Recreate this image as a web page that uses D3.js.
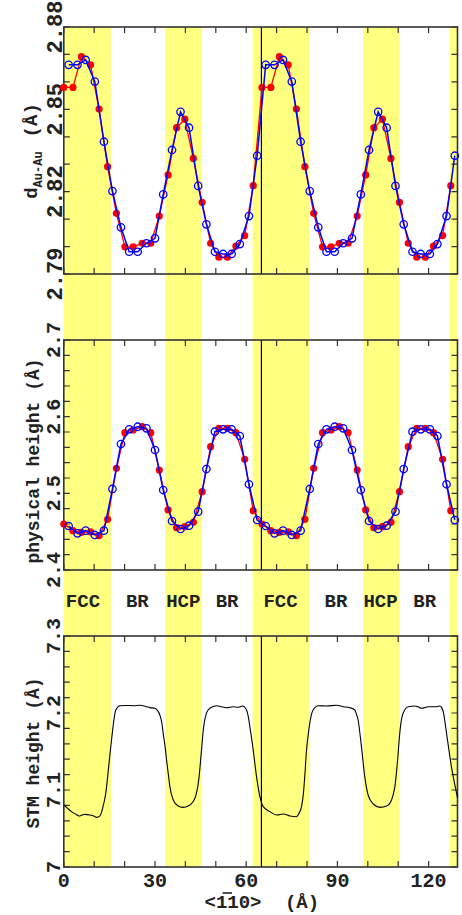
<!DOCTYPE html>
<html lang="en">
<head>
  <meta charset="UTF-8">
  <title>Au-Au distance, physical and STM height</title>
  <script src="https://cdn.jsdelivr.net/npm/d3@7"></script>
  <style>
    html, body { margin: 0; padding: 0; background: #fff; }
    svg { display: block; }
    text { font-family: "Liberation Mono", "DejaVu Sans Mono", monospace; font-weight: bold; fill: #222; }
  </style>
</head>
<body>
  <svg id="chart" width="462" height="915"></svg>
  <script>
    // positions along <1-10> (Å)
    const redX = [0, 3.0, 5.8, 8.8, 11.6, 14.4, 17.3, 20.1, 22.8, 25.8, 28.6, 31.4, 34.3, 37.1, 39.8, 42.6,
      45.5, 48.3, 51.0, 53.8, 56.6, 59.5, 62.3,
      65.2, 68.1, 70.9, 73.8, 76.5, 79.3, 82.2, 85.1, 87.9, 90.6, 93.5, 96.5, 99.3, 102.0, 104.8, 107.6,
      110.4, 113.3, 116.1, 118.9, 121.6, 124.6, 127.3];
    const blueX = [1.6, 4.5, 7.2, 10.2, 13.2, 16.0, 18.8, 21.5, 24.3, 27.2, 30.0, 32.7, 35.6, 38.4, 41.2, 44.2,
      46.9, 49.7, 52.4, 55.2, 57.9, 60.9, 63.6,
      66.4, 69.3, 72.1, 75.0, 77.9, 80.9, 83.7, 86.4, 89.1, 91.9, 94.8, 97.7, 100.4, 103.4, 106.2, 109.1,
      111.8, 114.7, 117.4, 120.4, 122.9, 125.9, 128.6];

    // d Au-Au (Å)
    const distRed = [2.858, 2.858, 2.8692, 2.8662, 2.8501, 2.8291, 2.8121, 2.7999, 2.7999, 2.8012, 2.8012, 2.8111,
      2.8261, 2.8433, 2.8464, 2.8321, 2.8161, 2.8012, 2.7961, 2.7961, 2.8002, 2.804, 2.8222,
      2.858, 2.858, 2.8692, 2.8662, 2.8501, 2.8291, 2.8121, 2.7999, 2.7999, 2.8012, 2.8012, 2.8111,
      2.8261, 2.8433, 2.8464, 2.8321, 2.8161, 2.8012, 2.7961, 2.7961, 2.8002, 2.804, 2.8222];
    const distBlue = [2.8662, 2.8662, 2.868, 2.8601, 2.8382, 2.8202, 2.807, 2.7981, 2.7981, 2.8012, 2.803, 2.819,
      2.8352, 2.8491, 2.8433, 2.8221, 2.8081, 2.7981, 2.7973, 2.7973, 2.8009, 2.8111, 2.8331,
      2.8662, 2.8662, 2.868, 2.8601, 2.8382, 2.8202, 2.807, 2.7981, 2.7981, 2.8012, 2.803, 2.819,
      2.8352, 2.8491, 2.8433, 2.8221, 2.8081, 2.7981, 2.7973, 2.7973, 2.8009, 2.8111, 2.8331];

    // physical height (Å)
    const heightRed = [2.46, 2.4513, 2.4492, 2.4496, 2.4448, 2.4661, 2.5326, 2.5791, 2.5826, 2.5869, 2.5791, 2.5304,
      2.4783, 2.4552, 2.4565, 2.4622, 2.5022, 2.5609, 2.5848, 2.5848, 2.5791, 2.5444, 2.4774,
      2.46, 2.4513, 2.4492, 2.4496, 2.4448, 2.4661, 2.5326, 2.5791, 2.5826, 2.5869, 2.5791, 2.5304,
      2.4783, 2.4552, 2.4565, 2.4622, 2.5022, 2.5609, 2.5848, 2.5848, 2.5791, 2.5444, 2.4774];
    const heightBlue = [2.4574, 2.4478, 2.4513, 2.4457, 2.4513, 2.5057, 2.5643, 2.5835, 2.5869, 2.5848, 2.5565, 2.5043,
      2.4639, 2.4535, 2.4578, 2.4761, 2.5317, 2.5804, 2.5835, 2.5835, 2.5748, 2.5118, 2.4652,
      2.4574, 2.4478, 2.4513, 2.4457, 2.4513, 2.5057, 2.5643, 2.5835, 2.5869, 2.5848, 2.5565, 2.5043,
      2.4639, 2.4535, 2.4578, 2.4761, 2.5317, 2.5804, 2.5835, 2.5835, 2.5748, 2.5118, 2.4652];

    // STM height profile (Å)
    const stmX = [0, 1.2, 2.5, 3.8, 5.0, 6.0, 6.9, 8.6, 10.0, 10.8, 11.8, 12.4, 12.9, 13.4, 13.8, 14.5, 15.1, 15.7,
      16.2, 17.1, 18.5, 20.5, 22.8, 25.0, 27.2, 28.3, 30.0, 30.5, 31.6, 32.2, 32.7, 33.3, 33.8, 34.4, 34.9,
      36.0, 37.6, 39.2, 40.9, 42.5, 43.1, 43.6, 44.1, 44.5, 45.3, 46.0, 46.9, 48.0, 50.2, 51.8, 53.5, 55.7,
      57.3, 58.8, 60.1, 60.7, 61.2, 62.3, 63.4, 64.5, 65.6, 67.8, 70.0, 72.2, 74.4, 76.5, 77.4, 78.2, 78.8,
      79.3, 79.8, 80.4, 80.9, 82.0, 83.7, 86.4, 89.7, 91.9, 94.1, 95.7, 96.3, 96.8, 97.9, 99.0, 100.1, 101.8,
      104.0, 106.2, 107.8, 108.4, 108.9, 109.8, 110.5, 111.0, 111.6, 113.3, 115.5, 116.5, 117.7, 119.9,
      122.6, 123.7, 124.3, 124.8, 125.9, 127.5, 129.2, 129.5];
    const stmY = [7.0805, 7.0765, 7.0719, 7.069, 7.0662, 7.0675, 7.0684, 7.0675, 7.066, 7.0645, 7.066, 7.071, 7.0784,
      7.087, 7.0957, 7.12, 7.1433, 7.165, 7.1823, 7.2039, 7.2095, 7.2098, 7.2095, 7.21, 7.2082, 7.207, 7.2061,
      7.2048, 7.1974, 7.188, 7.1736, 7.157, 7.139, 7.12, 7.1043, 7.087, 7.0792, 7.0775, 7.0792, 7.0848, 7.089,
      7.0957, 7.105, 7.1173, 7.152, 7.1823, 7.1996, 7.2061, 7.2095, 7.2082, 7.2069, 7.2082, 7.2074, 7.2091,
      7.2039, 7.195, 7.1823, 7.152, 7.1173, 7.0913, 7.0784, 7.0719, 7.0675, 7.0688, 7.0662, 7.0653, 7.07,
      7.0784, 7.095, 7.12, 7.15, 7.172, 7.1866, 7.2039, 7.2095, 7.2091, 7.21, 7.2082, 7.2069, 7.2039, 7.198,
      7.1909, 7.1563, 7.1173, 7.0935, 7.0818, 7.0775, 7.0792, 7.087, 7.095, 7.1043, 7.139, 7.1736, 7.19,
      7.1996, 7.2082, 7.2091, 7.208, 7.2061, 7.2082, 7.2082, 7.2091, 7.207, 7.2017, 7.1736, 7.1303, 7.0957, 7.09];

    // yellow stacking-region bands and their labels
    const bandStart = [0, 33.4, 62.1, 98.5, 127.0];
    const bandEnd = [15.5, 45.4, 80.7, 110.4, 129.5];
    const regionNames = ['FCC', 'BR', 'HCP', 'BR', 'FCC', 'BR', 'HCP', 'BR'];
    const regionPos = [6.3, 24.2, 39.3, 53.7, 71.3, 89.5, 104.2, 118.7];

    const xTickLabels = [0, 30, 60, 90, 120];
    const distLabels = [2.79, 2.82, 2.85, 2.88];
    const heightLabels = [2.4, 2.5, 2.6, 2.7];
    const stmLabels = [7, 7.1, 7.2, 7.3];
    const markerLine = 65;

    const svg = d3.select('#chart');
    const x = d3.scaleLinear().domain([0, 129.5]).range([63.8, 457.5]);

    const panels = [
      {top: 27, bottom: 274, domain: [2.79, 2.88], nticks: 9, labels: distLabels, labelSize: 22, labelX: 62},
      {top: 340, bottom: 570, domain: [2.4, 2.7], nticks: 15, labels: heightLabels, labelSize: 20, labelX: 60},
      {top: 636, bottom: 867, domain: [7.0, 7.3], nticks: 15, labels: stmLabels, labelSize: 20, labelX: 60}
    ];
    panels.forEach(p => {
      p.y = d3.scaleLinear().domain(p.domain).range([p.bottom, p.top]);
    });

    // bands run through all three panels
    svg.append('g').selectAll('rect')
      .data(d3.range(bandStart.length))
      .join('rect')
      .attr('x', i => x(bandStart[i]))
      .attr('width', i => x(bandEnd[i]) - x(bandStart[i]))
      .attr('y', panels[0].top)
      .attr('height', panels[2].bottom - panels[0].top)
      .attr('fill', '#ffff80');

    const tickLen = 6;
    const [x0, x1] = x.range();

    panels.forEach(p => {
      const g = svg.append('g');
      const xt = x.ticks(13);
      const yt = p.y.ticks(p.nticks);

      // inward ticks on all four sides
      g.selectAll('.xt').data(xt).join('path')
        .attr('d', d => `M${x(d)},${p.top}v${tickLen}M${x(d)},${p.bottom}v${-tickLen}`)
        .attr('stroke', '#333').attr('stroke-width', 1.2);
      g.selectAll('.yt').data(yt).join('path')
        .attr('d', d => `M${x0},${p.y(d)}h${tickLen}M${x1},${p.y(d)}h${-tickLen}`)
        .attr('stroke', '#333').attr('stroke-width', 1.2);

      g.append('line')
        .attr('x1', x(markerLine)).attr('x2', x(markerLine))
        .attr('y1', p.top).attr('y2', p.bottom)
        .attr('stroke', '#000').attr('stroke-width', 1.2);

      g.append('rect')
        .attr('x', x0).attr('y', p.top)
        .attr('width', x1 - x0).attr('height', p.bottom - p.top)
        .attr('fill', 'none').attr('stroke', '#333').attr('stroke-width', 1.6);

      g.selectAll('.yl').data(p.labels).join('text')
        .attr('transform', d => `translate(${p.labelX},${p.y(d)}) rotate(-90)`)
        .attr('text-anchor', 'middle')
        .style('font-size', p.labelSize + 'px')
        .text(d => String(d));
    });

    // series plotting helper
    function drawPair(p, redVals, blueVals) {
      const g = svg.append('g');
      const line = d3.line().x(d => x(d[0])).y(d => p.y(d[1]));
      const red = redX.map((d, i) => [d, redVals[i]]);
      const blue = blueX.map((d, i) => [d, blueVals[i]]);

      g.append('path').datum(red).attr('d', line)
        .attr('fill', 'none').attr('stroke', '#ff0000').attr('stroke-width', 1.3);
      g.selectAll('.r').data(red).join('circle')
        .attr('cx', d => x(d[0])).attr('cy', d => p.y(d[1])).attr('r', 3.6)
        .attr('fill', '#ff0000');
      g.append('path').datum(blue).attr('d', line)
        .attr('fill', 'none').attr('stroke', '#0000ff').attr('stroke-width', 1.5);
      g.selectAll('.b').data(blue).join('circle')
        .attr('cx', d => x(d[0])).attr('cy', d => p.y(d[1])).attr('r', 3.7)
        .attr('fill', 'none').attr('stroke', '#0000ff').attr('stroke-width', 1.3);
    }
    drawPair(panels[0], distRed, distBlue);
    drawPair(panels[1], heightRed, heightBlue);

    svg.append('path')
      .datum(stmX.map((d, i) => [d, stmY[i]]))
      .attr('d', d3.line().x(d => x(d[0])).y(d => panels[2].y(d[1])).curve(d3.curveMonotoneX))
      .attr('fill', 'none').attr('stroke', '#000').attr('stroke-width', 1.1);

    // region names between panel 2 and 3
    svg.append('g').selectAll('text')
      .data(regionNames)
      .join('text')
      .attr('x', (d, i) => x(regionPos[i]))
      .attr('y', 607)
      .attr('text-anchor', 'middle')
      .style('font-size', '19px')
      .text(d => d);

    // x tick labels
    svg.append('g').selectAll('text')
      .data(xTickLabels)
      .join('text')
      .attr('x', d => x(d))
      .attr('y', 887)
      .attr('text-anchor', 'middle')
      .style('font-size', '20px')
      .text(d => d);

    // y axis titles
    const t1 = svg.append('text')
      .attr('transform', 'translate(37,151) rotate(-90)')
      .attr('text-anchor', 'middle')
      .style('font-size', '19px');
    t1.append('tspan').text('d');
    t1.append('tspan').attr('dy', 5).style('font-size', '12px').text('Au-Au');
    t1.append('tspan').attr('dy', -5).attr('dx', 14).text('(Å)');

    svg.append('text')
      .attr('transform', 'translate(39,461) rotate(-90)')
      .attr('text-anchor', 'middle')
      .style('font-size', '18px')
      .text('physical height (Å)');

    svg.append('text')
      .attr('transform', 'translate(39,753) rotate(-90)')
      .attr('text-anchor', 'middle')
      .style('font-size', '18px')
      .text('STM height (Å)');

    // x axis title with overbar on the second index
    const xt = svg.append('text')
      .attr('x', 233).attr('y', 908)
      .attr('text-anchor', 'middle')
      .style('font-size', '19px')
      .text('<11\u00a00>');
    const xtNode = xt.node();
    const s = xtNode.getStartPositionOfChar(2);
    const e = xtNode.getEndPositionOfChar(2);
    xt.text('<110>');
    svg.append('line')
      .attr('x1', s.x + 1).attr('x2', e.x - 1)
      .attr('y1', 893).attr('y2', 893)
      .attr('stroke', '#222').attr('stroke-width', 1.6);

    svg.append('text')
      .attr('x', 302).attr('y', 908)
      .attr('text-anchor', 'middle')
      .style('font-size', '19px')
      .text('(Å)');
  </script>
</body>
</html>
